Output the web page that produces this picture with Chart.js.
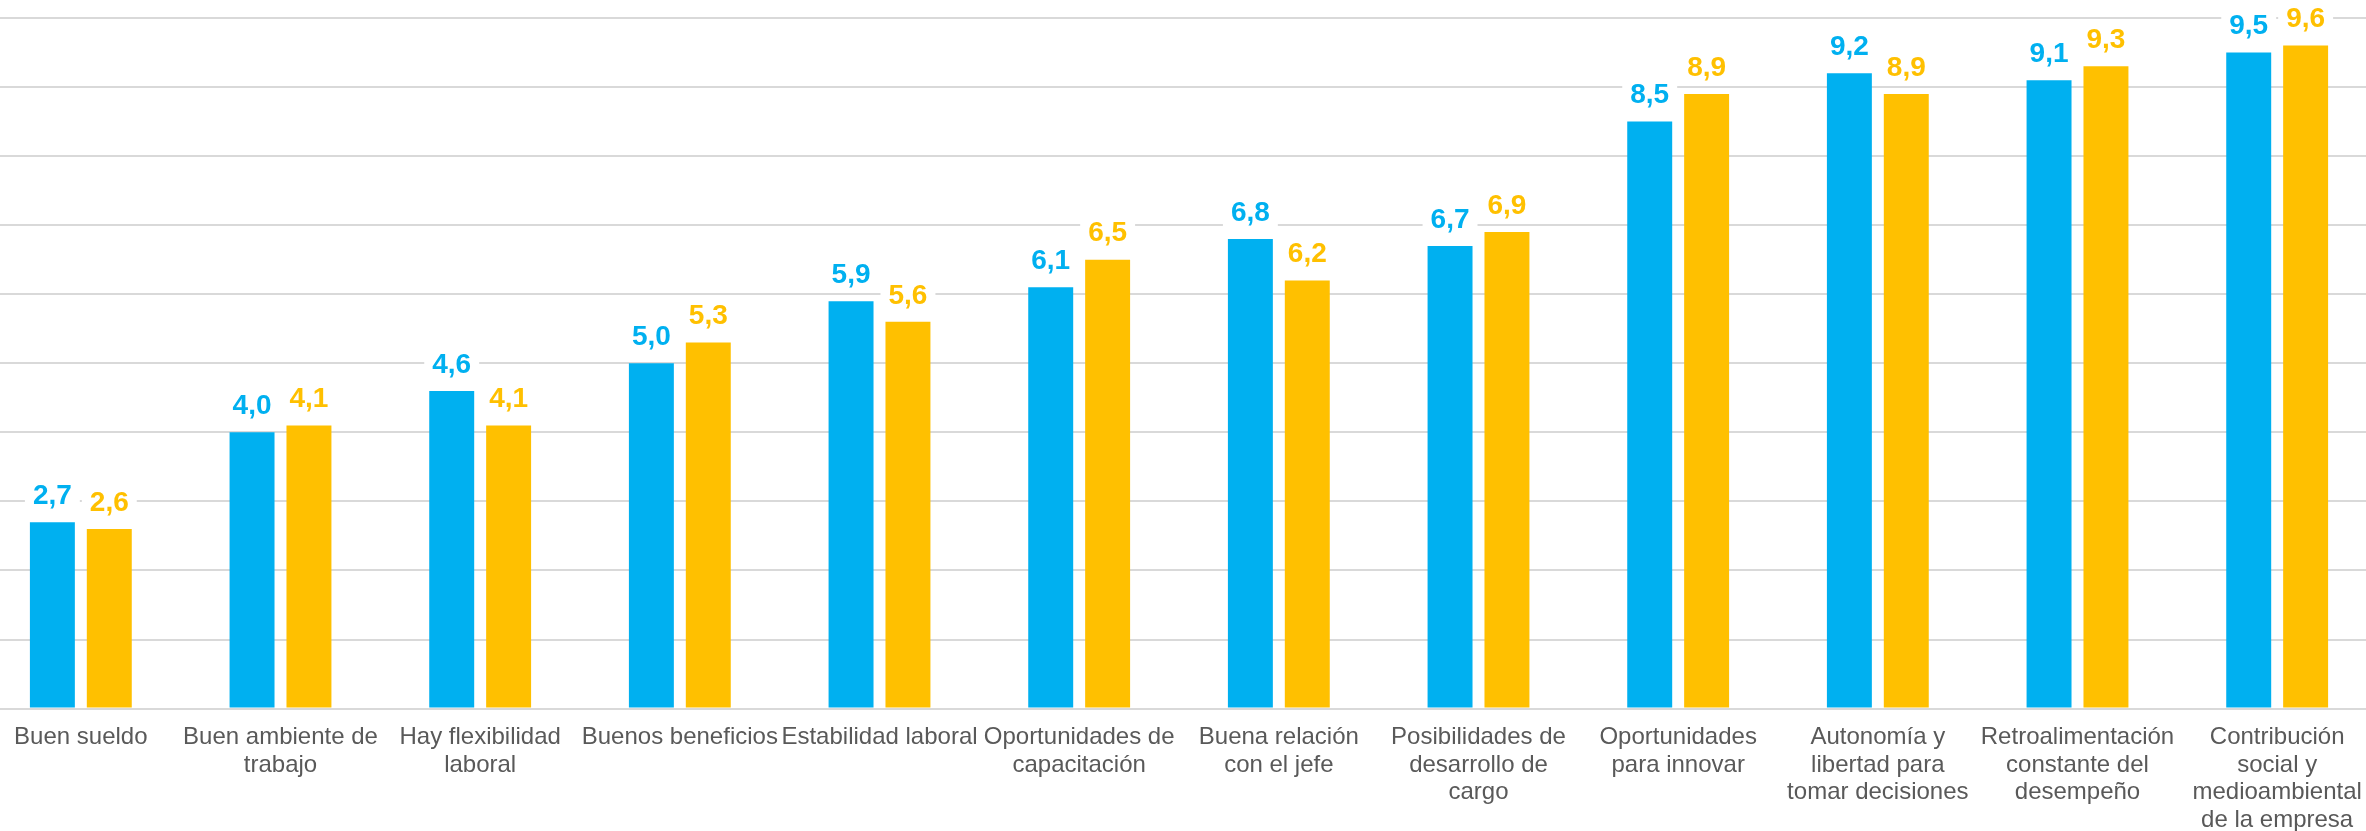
<!DOCTYPE html>
<html>
<head>
<meta charset="utf-8">
<script src="https://cdn.jsdelivr.net/npm/chart.js@4/dist/chart.umd.min.js"></script>
<style>
  html, body { margin: 0; padding: 0; background: #ffffff; overflow: hidden; width: 2366px; height: 831px; }
  #wrap { position: absolute; left: -19px; top: 0; width: 2396px; height: 855px; }
</style>
</head>
<body>
<div id="wrap"><canvas id="c" width="2396" height="855"></canvas></div>
<script>
const categories = [
  "Buen sueldo",
  ["Buen ambiente de", "trabajo"],
  ["Hay flexibilidad", "laboral"],
  "Buenos beneficios",
  "Estabilidad laboral",
  ["Oportunidades de", "capacitación"],
  ["Buena relación", "con el jefe"],
  ["Posibilidades de", "desarrollo de", "cargo"],
  ["Oportunidades", "para innovar"],
  ["Autonomía y", "libertad para", "tomar decisiones"],
  ["Retroalimentación", "constante del", "desempeño"],
  ["Contribución", "social y", "medioambiental", "de la empresa"]
];
const seriesBlue = [2.7, 4.0, 4.6, 5.0, 5.9, 6.1, 6.8, 6.7, 8.5, 9.2, 9.1, 9.5];
const seriesYellow = [2.6, 4.1, 4.1, 5.3, 5.6, 6.5, 6.2, 6.9, 8.9, 8.9, 9.3, 9.6];
const yMin = 0, yMax = 10, yStep = 1;

const BLUE = "#00B0F0", YELLOW = "#FFC000";

const valueLabels = {
  id: "valueLabels",
  afterDatasetsDraw(chart) {
    const ctx = chart.ctx;
    ctx.save();
    ctx.font = "bold 28px 'Liberation Sans', Arial, sans-serif";
    ctx.textAlign = "center";
    ctx.textBaseline = "middle";
    chart.data.datasets.forEach((ds, di) => {
      const meta = chart.getDatasetMeta(di);
      meta.data.forEach((bar, i) => {
        const txt = ds.data[i].toFixed(1).replace(".", ",");
        const w = ctx.measureText(txt).width;
        const cy = bar.y - 27;
        ctx.fillStyle = "#ffffff";
        ctx.fillRect(bar.x - w / 2 - 8, cy - 17, w + 16, 34);
        ctx.fillStyle = ds.backgroundColor;
        ctx.fillText(txt, bar.x, cy + 1);
      });
    });
    ctx.restore();
  }
};

new Chart(document.getElementById("c"), {
  type: "bar",
  data: {
    labels: categories,
    datasets: [
      { label: "Serie 1", data: seriesBlue, backgroundColor: BLUE, borderWidth: 0, categoryPercentage: 0.57, barPercentage: 0.79 },
      { label: "Serie 2", data: seriesYellow, backgroundColor: YELLOW, borderWidth: 0, categoryPercentage: 0.57, barPercentage: 0.79 }
    ]
  },
  options: {
    responsive: false,
    animation: false,
    layout: { padding: { top: 18, bottom: 6, left: 0, right: 0 } },
    plugins: { legend: { display: false }, tooltip: { enabled: false } },
    scales: {
      x: {
        grid: { display: false, drawTicks: false },
        border: { display: false },
        ticks: {
          autoSkip: false, maxRotation: 0, minRotation: 0, padding: 15,
          color: "#595959",
          font: { family: "'Liberation Sans', Arial, sans-serif", size: 24, lineHeight: 1.15 }
        }
      },
      y: {
        min: yMin, max: yMax,
        grid: { color: "#d9d9d9", lineWidth: 2, drawTicks: false },
        border: { display: false },
        ticks: { display: false, stepSize: yStep }
      }
    }
  },
  plugins: [valueLabels]
});
</script>
</body>
</html>
